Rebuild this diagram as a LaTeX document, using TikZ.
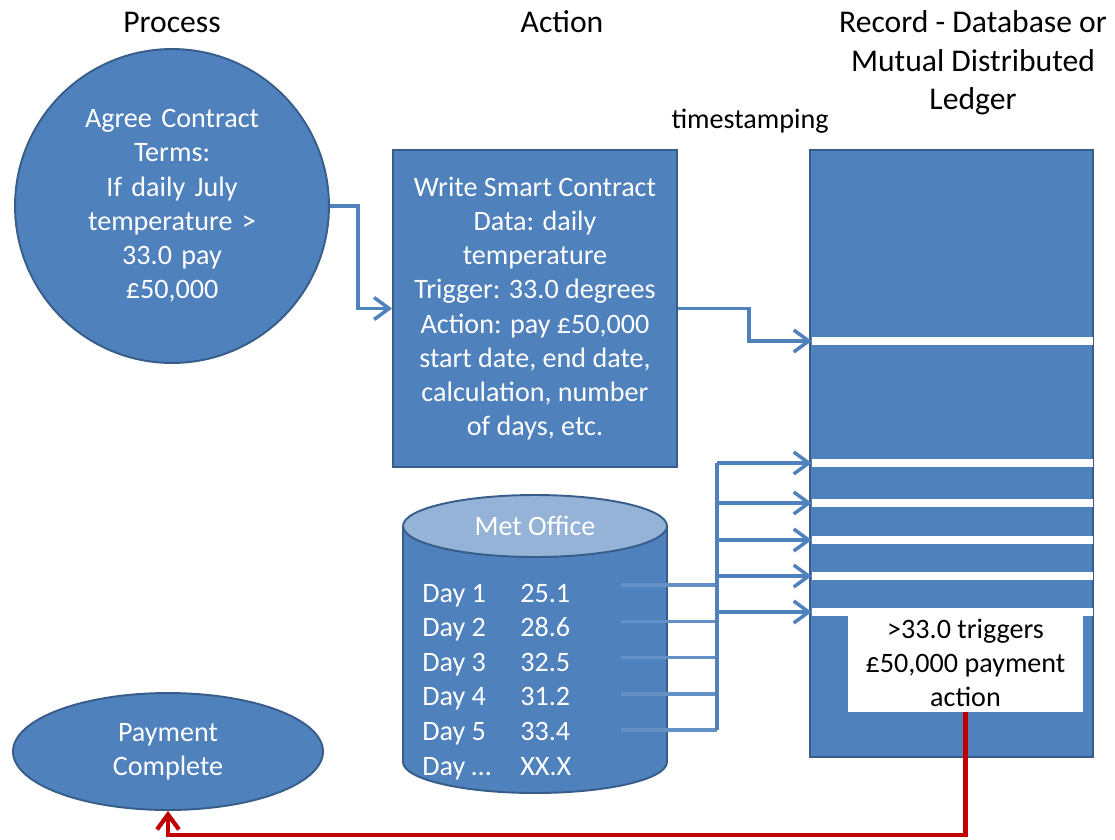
\documentclass[tikz,border=0pt]{standalone}
\usepackage{fontspec}
\setmainfont{Carlito}
\usepackage{tikz}
\usetikzlibrary{arrows.meta,shapes,calc}
\definecolor{officeblue}{HTML}{4F81BD}
\definecolor{officeedge}{HTML}{385D8A}
\definecolor{officelight}{HTML}{95B3D7}
\definecolor{officered}{HTML}{C00000}
\tikzstyle{bodytext}=[font=\fontsize{16}{19.5}\selectfont]
\tikzstyle{heading}=[font=\fontsize{18}{22}\selectfont, align=center, inner sep=0pt]
\tikzstyle{bluebox}=[rectangle, fill=officeblue, draw=officeedge, line width=1.1pt, inner sep=0pt, text=white, align=center, bodytext]
\tikzstyle{blueround}=[ellipse, fill=officeblue, draw=officeedge, line width=1.1pt, inner sep=0pt, text=white, align=center, bodytext]
\tikzstyle{stripe}=[rectangle, fill=white, inner sep=0pt, minimum width=5.62cm, minimum height=0.16cm]
\tikzstyle{daytext}=[bodytext, text=white, inner sep=0pt, anchor=base west]
\tikzstyle{link} = [draw, officeblue, line width=2pt]
\tikzstyle{edge} = [link, -{Straight Barb[length=0.3cm, width=0.44cm]}]
\tikzstyle{payedge} = [draw, officered, line width=2.4pt, -{Straight Barb[length=0.3cm, width=0.44cm]}]

\begin{document}
\begin{tikzpicture}[x=0.02cm, y=-0.02cm]
    \useasboundingbox (0,0) rectangle (1115,839);

    % Column headings
    \node[heading] (process) at (172,22) {Process};
    \node[heading] (action) at (562,22) {Action};
    \node[heading] (record) at (973,63) {Record - Database or\\Mutual Distributed\\Ledger};
    \node[bodytext, inner sep=0pt] (stamp) at (750,121) {timestamping};

    % Process and action shapes
    \node[bluebox, circle, minimum size=6.28cm, text width=4.6cm] (contract) at (172,206)
        {Agree Contract\\Terms:\\If daily July\\temperature >\\33.0 pay\\£50,000};
    \node[bluebox, minimum width=5.68cm, minimum height=6.34cm] (smart) at (535,308.5)
        {Write Smart Contract\\Data: daily\\temperature\\Trigger: 33.0 degrees\\Action: pay £50,000\\start date, end date,\\calculation, number\\of days, etc.};
    \node[blueround, minimum width=6.2cm, minimum height=2.34cm] (payment) at (168,751.5)
        {\raisebox{-0.1cm}{}Payment\\Complete};

    % The ledger with its records
    \node[bluebox, minimum width=5.66cm, minimum height=12.14cm] (ledger) at (951.5,453.5) {};
    \foreach \pos/ \name in {{(952.5,341)/s1},{(952.5,463)/s2},{(952.5,503)/s3},{(952.5,540)/s4},{(952.5,576)/s5},{(952.5,612)/s6}}
        \node[stripe] (\name) at \pos {};
    \node[rectangle, fill=white, inner sep=0pt, minimum width=4.7cm, minimum height=1.96cm,
          align=center, bodytext] (trigger) at (965.5,663) {>33.0 triggers\\£50,000 payment\\action};

    % Met Office data store
    \fill[officeblue, draw=officeedge, line width=1.1pt] (403,526) -- (403,762)
        arc[start angle=180, end angle=0, x radius=132, y radius=31] -- (667,526) -- cycle;
    \node[blueround, fill=officelight, minimum width=5.28cm, minimum height=1.24cm] (metoffice) at (535,526) {Met Office};
    \foreach \n/ \val [count=\i] in {1/25.1, 2/28.6, 3/32.5, 4/31.2, 5/33.4, …/XX.X} {
        \node[daytext] (day\i) at (422,{602+34.6*(\i-1)}) {Day \n};
        \node[daytext] (val\i) at (520,{602+34.6*(\i-1)}) {\val};
    }

    % Connect shapes with arrows
    \path[edge] (contract.east) -- ++(28,0) |- (smart.west);
    \path[edge] (smart.east) -- ++(71,0) |- (s1.west);

    % Daily readings go into the ledger
    \coordinate (bus) at (717,463);
    \foreach \i in {1,...,5}
        \coordinate (d\i) at (621,{585+36.3*(\i-1)});
    \foreach \i in {1,...,5}
        \path[link, officeblue!88!white] (d\i) -- (d\i -| bus);
    \path[link] (bus) -- (d5 -| bus);
    \foreach \dest in {s2,s3,s4,s5,s6}
        \path[edge] (\dest.west -| bus) -- (\dest.west);

    % Payment trigger
    \path[payedge] (trigger.south) -- ++(0,123) -| (payment.south);
\end{tikzpicture}
\end{document}
